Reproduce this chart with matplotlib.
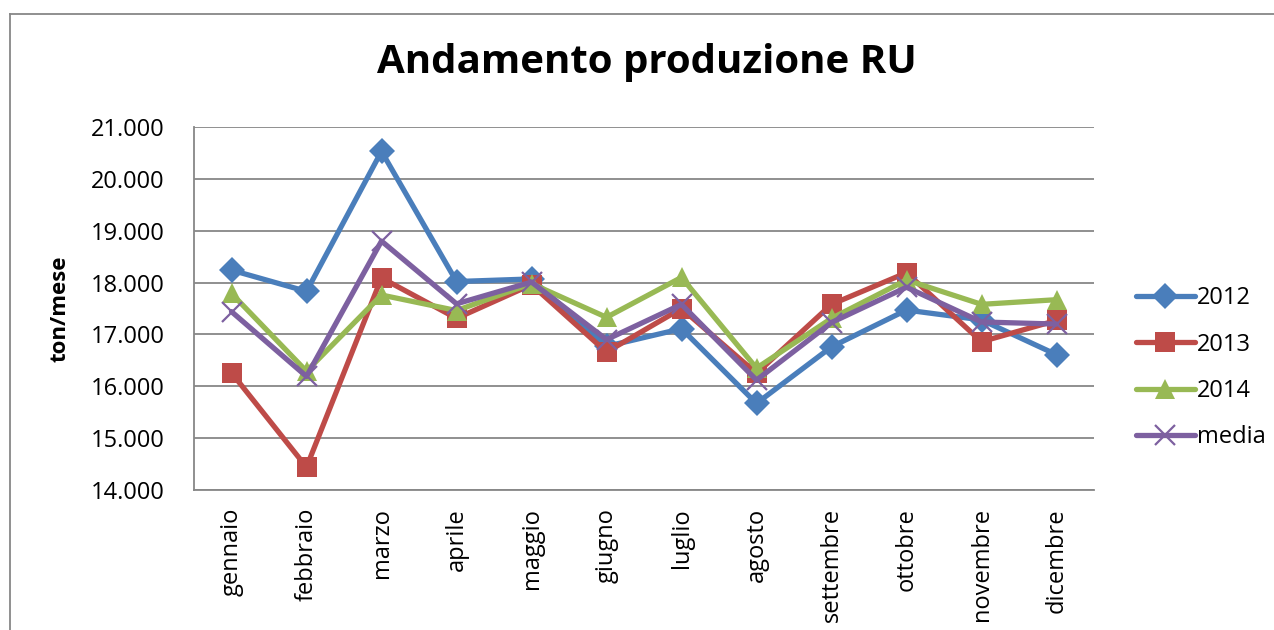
import matplotlib
matplotlib.use("Agg")
import matplotlib.pyplot as plt
from matplotlib.lines import Line2D

plt.rcParams['font.family'] = ['Open Sans', 'DejaVu Sans']

months = ["gennaio", "febbraio", "marzo", "aprile", "maggio", "giugno",
          "luglio", "agosto", "settembre", "ottobre", "novembre", "dicembre"]
v2012 = [18240, 17830, 20530, 18020, 18070, 16770, 17110, 15670, 16760, 17470, 17280, 16610]
v2013 = [16260, 14440, 18090, 17310, 17960, 16660, 17500, 16250, 17580, 18190, 16860, 17270]
v2014 = [17790, 16290, 17760, 17460, 17980, 17330, 18100, 16350, 17310, 18050, 17580, 17670]
media = [17440, 16190, 18800, 17590, 18010, 16900, 17580, 16120, 17230, 17910, 17240, 17200]
yticks = [14000, 15000, 16000, 17000, 18000, 19000, 20000, 21000]
ytick_labels = ["14.000", "15.000", "16.000", "17.000", "18.000", "19.000", "20.000", "21.000"]

W, H = 1274, 630
fig = plt.figure(figsize=(W / 100, H / 100), dpi=100)
ax = fig.add_axes([194 / W, 1 - 490 / H, 900 / W, 363 / H])

x = list(range(len(months)))
series = [
    ("2012", v2012, "#4A7EBB", "D", 13),
    ("2013", v2013, "#BE4B48", "s", 14),
    ("2014", v2014, "#98B954", "^", 15),
    ("media", media, "#7D60A0", "x", 14),
]
for name, vals, col, mk, ms in series:
    kw = dict(color=col, lw=3.8, marker=mk, markersize=ms, label=name,
              solid_joinstyle='round', solid_capstyle='round')
    if mk == "x":
        kw.update(markeredgewidth=1.6)
    else:
        kw.update(markeredgewidth=0, markerfacecolor=col)
    ax.plot(x, vals, **kw)

ax.set_xlim(-0.5, len(months) - 0.5)
ax.set_ylim(14000, 21000)
ax.set_yticks(yticks)
ax.set_yticklabels(ytick_labels, fontsize=17)
ax.set_xticks(x)
ax.set_xticklabels(months, rotation=90, fontsize=17)
ax.tick_params(axis='y', length=0, pad=21)
ax.tick_params(axis='x', length=0, pad=13)
ax.yaxis.grid(True, color="#878787", lw=1.3)
ax.set_axisbelow(True)
for s in ["top", "right"]:
    ax.spines[s].set_visible(False)
for s in ["left", "bottom"]:
    ax.spines[s].set_color("#878787")
    ax.spines[s].set_linewidth(1.3)

fig.text(60 / W, 1 - 309 / H, "ton/mese", rotation=90, fontsize=16, fontweight='bold',
         ha='center', va='center')
fig.text(647 / W, 1 - 63 / H, "Andamento produzione RU", fontsize=29, fontweight='bold',
         ha='center', va='center')

leg = ax.legend(loc='upper left', bbox_to_anchor=(1.023, 0.62), frameon=False,
                fontsize=17, handlelength=2.5, labelspacing=0.95, handletextpad=0.1)

# chart border
fig.add_artist(Line2D([10 / W, 10 / W], [0, 1 - 14 / H], transform=fig.transFigure,
                      color="#878787", lw=1.3))
fig.add_artist(Line2D([10 / W, 1], [1 - 14 / H, 1 - 14 / H], transform=fig.transFigure,
                      color="#878787", lw=1.3))

fig.savefig("out.png", dpi=100)
